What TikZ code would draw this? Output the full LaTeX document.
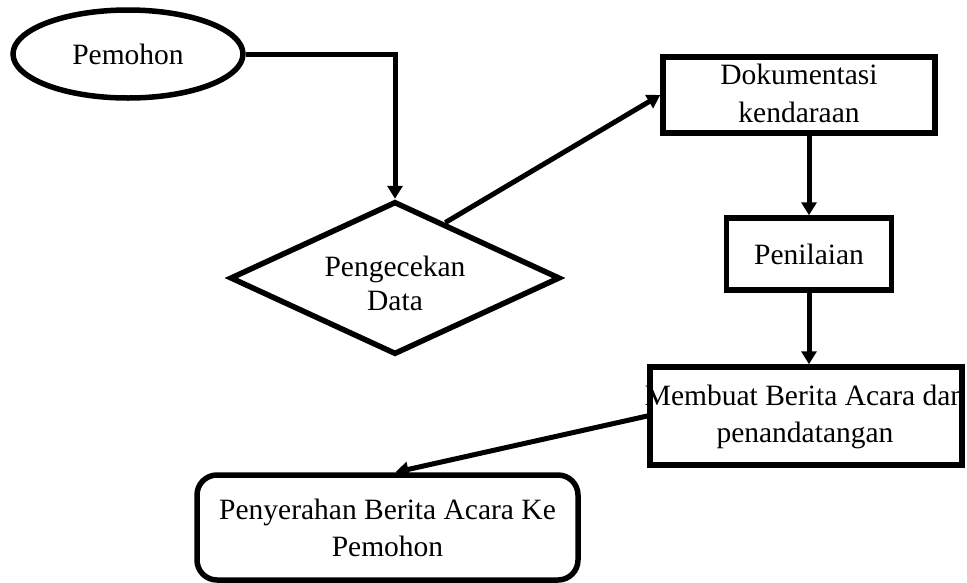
\documentclass[tikz,border=0pt]{standalone}
\usepackage{fontspec}
\setmainfont{Liberation Serif}
\usetikzlibrary{shapes.geometric,arrows.meta,calc}
\tikzset{
  base/.style={draw=black, line width=5.5pt, fill=white, inner sep=0pt, align=center,
    font=\fontsize{29.5}{37}\selectfont},
  startnode/.style={base, ellipse, minimum width=230pt, minimum height=88pt},
  decide/.style={base, diamond, shape aspect=2.16, minimum width=330pt, minimum height=153pt},
  procbox/.style={base, rectangle},
  endbox/.style={base, rectangle, rounded corners=20pt},
  label/.style={align=center, inner sep=0pt, font=\fontsize{29.5}{34}\selectfont},
  flow/.style={line width=5pt, -{Triangle[length=13pt,width=15pt]}}
}
\begin{document}
\begin{tikzpicture}[x=1pt,y=-1pt]
\useasboundingbox (0,0) rectangle (967,582);
\node[startnode] (pem) at (128,54) {Pemohon};
\node[decide] (cek) at (395,278) {};
\node[label] (cektxt) at (395,283) {Pengecekan\\Data};
\node[procbox, minimum width=272pt, minimum height=76pt] (dok) at (799,95) {};
\node[label, font=\fontsize{29.5}{38}\selectfont] (doktxt) at (799,93) {Dokumentasi\\kendaraan};
\node[procbox, minimum width=165pt, minimum height=72pt] (nil) at (809,254) {Penilaian};
\node[procbox, minimum width=312pt, minimum height=98pt] (mem) at (806,416) {};
\node[label, font=\fontsize{29.5}{37}\selectfont] (memtxt) at (805,417) {Membuat Berita Acara dan\\penandatangan};
\node[endbox, minimum width=381pt, minimum height=105pt] (ser) at (387.5,527.5) {Penyerahan Berita Acara Ke\\Pemohon};
\coordinate (cekout) at ($(cek.north)!0.3!(cek.east)$);
\coordinate (serin) at ([xshift=8pt]ser.north);
\draw[flow] (pem.east) -| (cek.north);
\draw[flow] (cekout) -- (dok.west);
\draw[flow] (nil.north |- dok.south) -- (nil.north);
\draw[flow] (nil.south) -- (nil.south |- mem.north);
\draw[flow] (mem.west) -- (serin);
\end{tikzpicture}
\end{document}
